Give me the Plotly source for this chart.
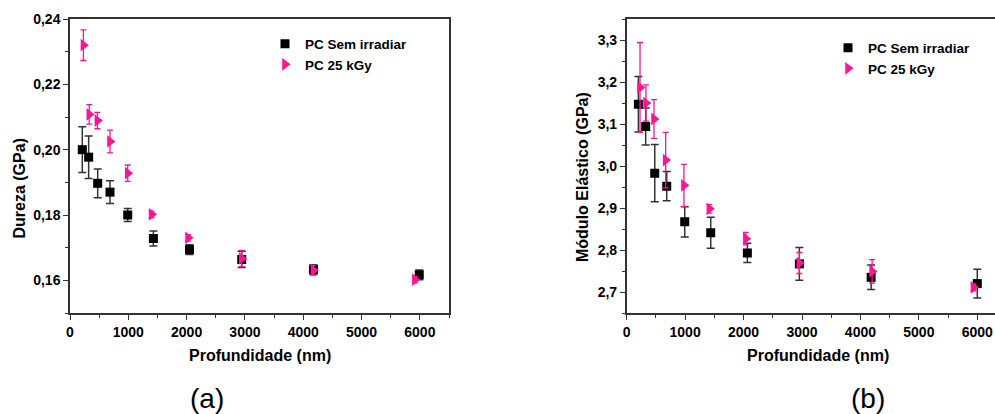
import plotly.graph_objects as go

# ---------------- data ----------------
# (a) Dureza
prof_a_sem = [211, 320, 475, 686, 990, 1430, 2050, 2945, 4175, 5990]
dureza_sem = [0.2000, 0.1977, 0.1897, 0.1870, 0.1800, 0.1728, 0.1694, 0.1664, 0.1633, 0.1617]
dureza_sem_err = [0.0070, 0.0065, 0.0044, 0.0035, 0.0020, 0.0023, 0.0015, 0.0025, 0.0015, 0.0015]

prof_a_25 = [230, 330, 470, 686, 990, 1400, 2025, 2945, 4175, 5915]
dureza_25 = [0.2320, 0.2108, 0.2089, 0.2025, 0.1928, 0.1802, 0.1730, 0.1667, 0.1631, 0.1602]
dureza_25_err = [0.0047, 0.0030, 0.0025, 0.0035, 0.0025, 0.0010, 0.0010, 0.0025, 0.0015, 0.0010]

# (b) Modulo elastico
prof_b_sem = [200, 325, 480, 685, 993, 1438, 2065, 2955, 4183, 6000]
modulo_sem = [3.147, 3.094, 2.983, 2.952, 2.867, 2.841, 2.793, 2.767, 2.735, 2.720]
modulo_sem_err = [0.066, 0.044, 0.068, 0.035, 0.036, 0.037, 0.023, 0.039, 0.029, 0.034]

prof_b_25 = [228, 330, 467, 667, 980, 1415, 2038, 2955, 4200, 5935]
modulo_25 = [3.187, 3.150, 3.112, 3.014, 2.954, 2.898, 2.827, 2.769, 2.749, 2.711]
modulo_25_err = [0.107, 0.043, 0.046, 0.066, 0.050, 0.010, 0.015, 0.025, 0.028, 0.008]

series_names = ["PC Sem irradiar", "PC 25 kGy"]
x_title = "Profundidade (nm)"
y_title_a = "Dureza (GPa)"
y_title_b = "Módulo Elástico (GPa)"
panel_labels = ["(a)", "(b)"]

# ---------------- style ----------------
W, H = 995, 414
FONT = "Liberation Sans, Arial, sans-serif"
BLACK = "#000000"
PINK = "#FF1493"
AXC = "#333333"


def px(X):
    return X / W


def py(Y):
    return 1 - Y / H


fig = go.Figure()


def add_pair(xs, ys, es, xs2, ys2, es2, xa, ya, legend):
    fig.add_trace(go.Scatter(
        x=xs, y=ys, mode="markers", name=series_names[0],
        marker=dict(symbol="square", size=9, color=BLACK),
        error_y=dict(type="data", array=es, visible=True, color=AXC, thickness=1.5, width=4),
        xaxis=xa, yaxis=ya, legend=legend))
    fig.add_trace(go.Scatter(
        x=xs2, y=ys2, mode="markers", name=series_names[1],
        marker=dict(symbol="triangle-right", size=11, color=PINK),
        error_y=dict(type="data", array=es2, visible=True, color=PINK, thickness=1.3, width=3),
        xaxis=xa, yaxis=ya, legend=legend))


add_pair(prof_a_sem, dureza_sem, dureza_sem_err, prof_a_25, dureza_25, dureza_25_err, "x", "y", "legend")
add_pair(prof_b_sem, modulo_sem, modulo_sem_err, prof_b_25, modulo_25, modulo_25_err, "x2", "y2", "legend2")

tickfont = dict(family=FONT, size=14, color=BLACK, weight="bold")
ydom = [py(313), py(19)]


def xaxis(domain, rng, anchor):
    return dict(domain=domain, range=rng, anchor=anchor, showgrid=False, zeroline=False,
                automargin=False,
                showline=True, linecolor=AXC, linewidth=1.5, mirror=True,
                ticks="outside", ticklen=5, tickwidth=1.2, tickcolor=AXC,
                tick0=0, dtick=1000, tickfont=tickfont,
                minor=dict(ticks="outside", ticklen=3, tickwidth=1, tickcolor=AXC, dtick=500, tick0=0, showgrid=False))


def yaxis(rng, dtick, anchor, mirror, fmt):
    return dict(domain=ydom, range=rng, anchor=anchor, showgrid=False, zeroline=False,
                automargin=False,
                showline=True, linecolor=AXC, linewidth=1.5, mirror=mirror,
                ticks="outside", ticklen=5, tickwidth=1.2, tickcolor=AXC,
                dtick=dtick, tickformat=fmt, tickfont=tickfont,
                minor=dict(ticks="outside", ticklen=3, tickwidth=1, tickcolor=AXC, dtick=dtick / 2, showgrid=False))


ax_a = [px(70), px(449)]
ax_b = [px(626.7), 1.0]

legfont = dict(family=FONT, size=13.5, color=BLACK, weight="bold")
fig.update_layout(
    width=W, height=H, margin=dict(l=0, r=0, t=0, b=0, autoexpand=False),
    paper_bgcolor="white", plot_bgcolor="white",
    separators=",.",
    font=dict(family=FONT, color=BLACK),
    xaxis=xaxis(ax_a, [0, 6500], "y"),
    yaxis=yaxis([0.15, 0.24], 0.02, "x", True, ".2f"),
    xaxis2=xaxis(ax_b, [0, 6303], "y2"),
    yaxis2=yaxis([2.65, 3.35], 0.1, "x2", False, ".1f"),
    legend=dict(x=px(265), y=py(28.5), xanchor="left", yanchor="top",
                bgcolor="rgba(0,0,0,0)", borderwidth=0, font=legfont,
                itemsizing="trace", tracegroupgap=0),
    legend2=dict(x=px(828), y=py(32.5), xanchor="left", yanchor="top",
                 bgcolor="rgba(0,0,0,0)", borderwidth=0, font=legfont,
                 itemsizing="trace", tracegroupgap=0),
    showlegend=True,
)

title_font = dict(family=FONT, size=16, color=BLACK, weight="bold")
ann = [
    dict(text=x_title, x=px(260), y=py(355), font=title_font),
    dict(text=x_title, x=px(817.5), y=py(355), font=title_font),
    dict(text=y_title_a, x=px(18.5), y=py(189), font=title_font, textangle=-90),
    dict(text=y_title_b, x=px(582.5), y=py(177.5), font=title_font, textangle=-90),
    dict(text=panel_labels[0], x=px(207), y=py(398), font=dict(family=FONT, size=28, color=BLACK)),
    dict(text=panel_labels[1], x=px(868), y=py(398), font=dict(family=FONT, size=28, color=BLACK)),
]
for a in ann:
    a.update(xref="paper", yref="paper", showarrow=False, xanchor="center", yanchor="middle")
    fig.add_annotation(**a)

fig.write_html(
    "out.html",
    config={"displayModeBar": False},
    post_script="document.body.style.margin='0';document.body.style.overflow='hidden';",
)
